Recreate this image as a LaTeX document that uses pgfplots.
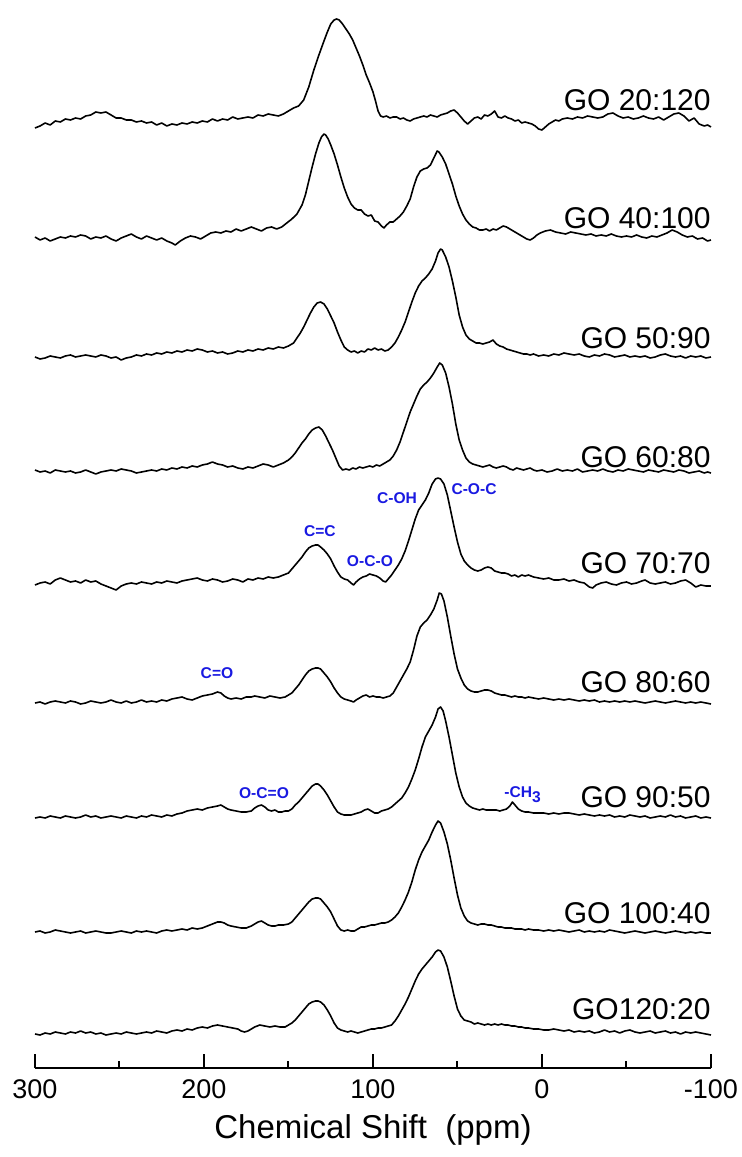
\documentclass[border=0pt]{standalone}
\usepackage{fontspec}
\setmainfont{Liberation Sans}
\usepackage{pgfplots}
\pgfplotsset{compat=1.18}
\definecolor{annblue}{RGB}{25,25,225}
\begin{document}
\begin{tikzpicture}
\begin{axis}[
  scale only axis, width=338pt, height=534pt,
  xmin=-100, xmax=300, ymin=0, ymax=1068, x dir=reverse,
  axis x line=bottom, axis y line=none,
  x axis line style={-, line width=1pt},
  xtick={300,200,100,0,-100}, xticklabels={300,200,100,0,-100},
  minor x tick num=1, tick align=inside, xtick pos=bottom,
  major tick length=7pt, minor tick length=3.5pt,
  every tick/.style={line width=1pt, black},
  xticklabel style={font=\fontsize{13.5}{16}\selectfont, yshift=-2.5pt},
  clip=false,
  trace/.style={black, solid, line width=0.8pt, mark=none, line join=round},
]
\coordinate (ll) at (axis cs:300,0);
% GO 20:120
\addplot[trace, y filter/.expression={y+943}] coordinates {(300,-3) (297,-1) (294,2) (291,0) (288,4) (285,3) (282,6) (279,5) (276,7) (273,6) (270,9) (267,10) (264,13) (261,12) (258,13) (255,10) (252,7) (249,7) (246,5) (243,5) (240,3) (237,4) (234,2) (231,3) (228,0) (225,2) (222,-1) (219,1) (216,0) (213,2) (210,1) (207,3) (204,2) (201,4) (198,3) (195,6) (192,4) (189,6) (186,5) (183,8) (180,6) (177,7) (174,8) (171,7) (168,10) (165,9) (162,11) (159,10) (156,9) (153,11) (150,14) (147,17) (144,19) (141,25) (138,38) (135,55) (132,70) (129,84) (127,93) (125,101) (123,105) (121.5,106) (120,105) (118,101) (116,96) (114,91) (112,85) (110,77) (108,69) (106,60) (104,50) (102,42) (100,33) (98.5,24) (97,14) (95.5,9) (94,8) (92,9) (90,7) (88,8) (86,8) (84,6) (82,7) (80,5) (78,4) (76,6) (74,7) (72,8) (70,9) (68,8) (66,10) (64,9) (62,8) (60,10) (58,11) (56,12) (54,14) (52,15) (50,12) (48,8) (46,4) (44,1) (42,4) (40,7) (38,8) (36,6) (34,10) (32,9) (30,11) (28,14) (26,8) (24,7) (22,9) (20,7) (18,6) (16,4) (14,5) (12,2) (10,3) (8,2) (6,1) (4,-1) (2,-4) (0,-5) (-2,-2) (-4,1) (-6,3) (-8,5) (-10,4) (-12,6) (-15,7) (-18,6) (-21,8) (-24,7) (-27,9) (-30,8) (-33,7) (-36,8) (-39,11) (-42,12) (-45,9) (-48,7) (-51,8) (-54,6) (-57,7) (-60,9) (-63,7) (-66,6) (-69,8) (-72,5) (-75,8) (-78,11) (-81,12) (-84,9) (-87,4) (-90,7) (-93,1) (-96,-1) (-98,0) (-100,-2)};
% GO 40:100
\addplot[trace, y filter/.expression={y+829}] coordinates {(300,2) (297,-1) (294,1) (291,-2) (288,0) (285,2) (282,1) (279,3) (276,2) (273,4) (270,3) (267,0) (264,2) (261,1) (258,3) (255,0) (252,-2) (249,1) (246,3) (243,5) (240,2) (237,0) (234,3) (231,1) (228,-1) (225,1) (222,-2) (219,-4) (217,-6) (214,-2) (211,1) (208,3) (205,2) (202,0) (199,3) (196,6) (193,7) (190,6) (187,8) (184,7) (181,10) (178,8) (175,10) (172,12) (169,10) (166,8) (163,11) (160,12) (157,10) (154,12) (151,16) (148,20) (145,25) (142,34) (140,44) (138,58) (136,72) (134,85) (132,96) (130.5,102) (129,105) (128,104) (126.5,100) (125,94) (123,85) (121,74) (119,62) (117,51) (115,42) (113,35) (111,31) (109,29) (107,29) (105,25) (103,23) (101,24) (99,18) (97,17) (95,13) (93.5,11) (92,14) (90,17) (88,17) (86,20) (84,23) (82,27) (80,33) (78,40) (76,52) (74,62) (72,68) (70,70) (68,71) (66,74) (64,81) (62,88) (61,87) (59,82) (57,75) (55,65) (53,55) (51,43) (49,33) (47,25) (45,19) (43,15) (41,12) (39,11) (37,9) (35,9) (33,10) (31,8) (29,10) (27,9) (25,11) (23,13) (21,12) (19,10) (17,8) (15,6) (13,4) (11,2) (9,0) (7,-1) (5,1) (3,4) (1,6) (-2,8) (-5,9) (-8,7) (-11,6) (-14,5) (-17,7) (-20,6) (-23,5) (-26,4) (-29,5) (-32,3) (-35,4) (-38,3) (-41,5) (-44,3) (-47,2) (-50,3) (-53,2) (-56,4) (-59,2) (-62,1) (-65,3) (-68,2) (-71,4) (-74,6) (-77,9) (-80,7) (-83,4) (-86,2) (-89,3) (-92,0) (-95,1) (-98,-2) (-100,-1)};
% GO 50:90
\addplot[trace, y filter/.expression={y+711}] coordinates {(300,0) (297,-2) (294,-1) (291,1) (288,0) (285,-1) (282,1) (279,2) (276,0) (273,1) (270,2) (267,1) (264,0) (261,2) (258,1) (255,-1) (252,0) (249,-3) (246,-1) (243,0) (240,2) (237,1) (234,3) (231,2) (228,4) (225,3) (222,5) (219,4) (216,6) (213,5) (210,7) (207,6) (204,8) (201,7) (198,5) (195,6) (192,4) (189,5) (186,3) (183,4) (180,6) (177,5) (174,7) (171,6) (168,8) (165,7) (162,9) (159,8) (156,10) (153,9) (150,11) (147,14) (145,19) (143,24) (141,30) (139,37) (137,44) (135,50) (133,54) (131,55) (129,53) (127,48) (125,41) (123,34) (121,25) (119,17) (117,10) (115,7) (113,5) (111,6) (109,4) (107,6) (105,5) (103,8) (101,7) (99,9) (97,7) (95,8) (93,6) (91,7) (89,10) (87,14) (85,20) (83,27) (81,35) (79,45) (77,55) (75,64) (73,71) (71,76) (69,79) (67,83) (65,88) (63,96) (61.5,104) (60,108) (59,107) (57,100) (55,90) (53,76) (51,60) (49,42) (47,30) (45,22) (43,18) (41,16) (39,14) (37,14) (35,13) (33,14) (31,15) (29,17) (27,13) (25,11) (23,10) (21,8) (19,7) (17,6) (15,5) (13,4) (11,3) (9,3) (7,2) (5,3) (2,1) (-1,2) (-4,1) (-7,3) (-10,2) (-13,4) (-16,3) (-19,2) (-22,3) (-25,1) (-28,0) (-31,2) (-34,1) (-37,3) (-40,2) (-43,0) (-46,1) (-49,2) (-52,0) (-55,1) (-58,0) (-61,1) (-64,-1) (-67,0) (-70,2) (-73,3) (-76,1) (-79,0) (-82,1) (-85,-1) (-88,1) (-91,0) (-94,1) (-97,-1) (-100,0)};
% GO 60:80
\addplot[trace, y filter/.expression={y+596}] coordinates {(300,2) (297,0) (294,1) (291,-1) (288,2) (285,1) (282,0) (279,1) (276,-1) (273,0) (270,2) (267,0) (264,-2) (261,0) (258,1) (255,2) (252,1) (249,3) (246,2) (243,1) (240,-1) (237,0) (234,1) (231,2) (228,1) (225,3) (222,2) (219,4) (216,3) (213,5) (210,4) (207,6) (204,5) (201,7) (198,8) (195,10) (192,8) (189,7) (186,5) (183,6) (180,4) (177,3) (174,5) (171,4) (168,6) (165,8) (162,7) (159,5) (156,7) (153,9) (150,12) (148,15) (146,19) (144,24) (142,29) (140,33) (138,38) (136,42) (134,44) (132,45) (130,42) (128,36) (126,29) (124,22) (122,14) (120,6) (118,2) (116,3) (114,2) (112,4) (110,3) (108,5) (106,4) (104,5) (102,6) (100,5) (98,7) (96,6) (94,8) (92,10) (90,12) (88,16) (86,22) (84,30) (82,40) (80,50) (78,60) (76,68) (74,76) (72,83) (70,87) (68,90) (66,94) (64,99) (62,105) (60.5,109) (59,107) (57,99) (55,85) (53,68) (51,48) (49,32) (47,22) (45,14) (43,10) (41,8) (39,7) (37,6) (35,5) (33,6) (31,7) (29,5) (27,4) (25,5) (23,6) (21,5) (19,3) (17,2) (15,4) (13,3) (11,2) (9,3) (7,4) (5,2) (3,1) (0,2) (-3,0) (-6,1) (-9,3) (-12,1) (-15,2) (-18,1) (-21,3) (-24,0) (-27,1) (-30,2) (-33,1) (-36,3) (-39,1) (-42,0) (-45,2) (-48,1) (-51,3) (-54,2) (-57,1) (-60,0) (-63,2) (-66,1) (-69,0) (-72,2) (-75,1) (-78,0) (-81,2) (-84,1) (-87,-1) (-90,0) (-93,1) (-96,-1) (-98,0) (-100,-1)};
% GO 70:70
\addplot[trace, y filter/.expression={y+485}] coordinates {(300,-2) (297,0) (294,1) (291,-1) (288,3) (285,5) (282,3) (279,1) (276,2) (273,0) (270,3) (267,1) (264,2) (261,-1) (258,-3) (255,-5) (252,-7) (249,-3) (246,-1) (243,0) (240,-1) (237,1) (234,0) (231,-1) (228,1) (225,0) (222,2) (219,1) (216,0) (213,2) (210,3) (207,4) (204,5) (201,3) (198,2) (195,4) (192,3) (189,1) (186,2) (183,4) (180,3) (177,1) (174,4) (171,3) (168,5) (165,4) (162,6) (159,5) (156,6) (153,8) (150,10) (148,14) (146,18) (144,22) (142,26) (140,31) (138,35) (136,37) (134,38) (132.5,38) (131,36) (129,33) (127,29) (125,24) (123,17) (121,11) (119,6) (117,4) (115,3) (113,0) (111.5,-2) (110,1) (108,4) (106,6) (104,7) (102,9) (100,8) (98,7) (96,5) (94,2) (92.5,1) (91,4) (89,8) (87,13) (85,18) (83,24) (81,32) (79,42) (77,53) (75,64) (73,73) (71,78) (69,83) (67,90) (65,99) (63,104) (61.5,105) (60,104) (58,99) (56,88) (54,72) (52,56) (50,41) (48,29) (46,22) (44,18) (42,15) (40,13) (38,12) (36,13) (34,15) (32,16) (30,15) (28,12) (26,11) (24,10) (22,10) (20,9) (18,7) (16,8) (14,6) (12,8) (10,7) (8,8) (5,6) (2,5) (-1,4) (-4,5) (-7,3) (-10,3) (-13,4) (-16,2) (-19,3) (-22,1) (-25,0) (-28,-4) (-30,-5) (-32,-2) (-35,0) (-38,1) (-41,-1) (-44,-2) (-47,0) (-50,1) (-53,-1) (-56,0) (-59,2) (-61,3) (-64,0) (-67,-1) (-70,0) (-73,1) (-76,-1) (-79,0) (-82,2) (-85,3) (-88,0) (-91,-4) (-94,-2) (-97,-3) (-100,-3)};
% GO 80:60
\addplot[trace, y filter/.expression={y+366}] coordinates {(300,-1) (297,0) (294,-2) (291,0) (288,1) (285,0) (282,-1) (279,1) (276,0) (273,-2) (270,-1) (267,1) (264,0) (261,-1) (258,0) (255,2) (252,0) (249,-1) (246,1) (243,-1) (240,0) (237,2) (234,0) (231,1) (228,0) (225,2) (222,1) (219,3) (216,4) (213,5) (210,3) (207,2) (204,4) (201,6) (198,7) (195,8) (192,10) (190,9) (188,6) (186,4) (184,3) (181,4) (178,3) (175,5) (172,5) (170,6) (167,5) (164,4) (161,6) (158,5) (155,4) (152,5) (150,7) (148,9) (146,13) (144,17) (142,22) (140,27) (138,31) (136,33) (134,34) (132.5,34) (131,33) (129,29) (127,25) (125,20) (123,14) (121,9) (119,5) (117,3) (115,2) (113,1) (111.5,0) (110,2) (108,4) (106,6) (104,7) (102,5) (100,6) (98,5) (96,5) (94,4) (92,5) (90,6) (88,9) (86,15) (84,21) (82,27) (80,33) (78,40) (76,52) (74,66) (72,75) (70,79) (68,82) (66,87) (64,93) (62,102) (60.8,109) (59.5,108) (58,101) (56,85) (54,66) (52,48) (50,33) (48,24) (46,17) (44,13) (42,11) (40,10) (38,10) (36,11) (34,12) (32,12) (30,11) (28,9) (26,8) (24,7) (22,7) (20,6) (18,5) (16,6) (14,5) (12,5) (10,4) (8,5) (5,4) (2,3) (-1,4) (-4,3) (-7,2) (-10,3) (-13,2) (-16,3) (-19,2) (-22,1) (-25,2) (-28,1) (-31,2) (-34,0) (-37,1) (-40,0) (-43,1) (-46,0) (-49,1) (-52,0) (-55,1) (-58,0) (-61,-1) (-64,0) (-67,1) (-70,0) (-73,-1) (-76,0) (-79,1) (-82,0) (-85,-1) (-88,0) (-91,-1) (-94,0) (-97,-1) (-100,-2)};
% GO 90:50
\addplot[trace, y filter/.expression={y+251}] coordinates {(300,-1) (297,0) (294,-1) (291,1) (288,0) (285,-1) (282,1) (279,0) (276,-1) (273,0) (270,2) (267,0) (264,1) (261,-1) (258,0) (255,1) (252,0) (249,-1) (246,1) (243,0) (240,-1) (237,1) (234,0) (231,2) (228,1) (225,0) (222,2) (219,1) (216,3) (213,4) (210,6) (207,7) (204,8) (201,7) (198,9) (195,10) (192,11) (190,12) (188,10) (186,8) (184,7) (181,6) (178,5) (175,5) (172,6) (170,9) (168,11) (166,12) (164,10) (162,7) (160,6) (158,7) (156,5) (154,5) (152,6) (150,6) (148,8) (146,12) (144,15) (142,19) (140,23) (138,27) (136,31) (134,33) (132.5,33) (131,31) (129,27) (127,22) (125,16) (123,10) (121,5) (119,3) (117,2) (115,2) (113,2) (111,3) (109,4) (107,5) (105,7) (103,8) (101,6) (99,4) (97,4) (95,6) (93,7) (91,8) (89,10) (87,13) (85,16) (83,19) (81,24) (79,30) (77,38) (75,47) (73,58) (71,70) (69,80) (67,86) (65,92) (63,100) (61.5,108) (60,110) (58.5,106) (57,96) (55,80) (53,62) (51,44) (49,30) (47,20) (45,14) (43,11) (41,9) (39,8) (37,7) (35,8) (33,7) (31,7) (29,7) (27,7) (25,6) (23,7) (21,8) (19,11) (17.5,15) (16,12) (14,8) (12,6) (10,5) (8,5) (5,4) (2,4) (-1,4) (-4,3) (-7,4) (-10,3) (-13,4) (-16,4) (-19,3) (-22,2) (-25,3) (-28,2) (-31,1) (-34,2) (-37,1) (-40,2) (-43,0) (-46,1) (-49,0) (-52,2) (-55,1) (-58,0) (-61,1) (-64,-1) (-67,0) (-70,1) (-73,0) (-76,2) (-79,0) (-82,1) (-85,-1) (-88,0) (-91,1) (-94,-1) (-97,0) (-100,-1)};
% GO 100:40
\addplot[trace, y filter/.expression={y+136}] coordinates {(300,0) (297,1) (294,-1) (291,0) (288,2) (285,1) (282,0) (279,-1) (276,0) (273,1) (270,-1) (267,0) (264,1) (261,0) (258,-1) (255,-1) (252,0) (249,1) (246,0) (243,-1) (240,1) (237,0) (234,1) (231,0) (228,-1) (225,1) (222,2) (219,1) (216,2) (213,3) (210,2) (207,4) (204,3) (201,4) (198,6) (195,8) (192,10) (190,10) (188,9) (186,7) (184,6) (181,5) (178,4) (175,4) (172,6) (170,8) (168,10) (166,11) (164,9) (162,7) (160,6) (158,6) (156,7) (153,7) (150,8) (148,10) (146,14) (144,18) (142,22) (140,26) (138,30) (136,33) (134,34) (132.5,34) (131,33) (129,29) (127,25) (125,20) (123,13) (121,6) (119,2) (117,1) (115,2) (113,1) (111,1) (109,3) (107,5) (105,5) (103,6) (101,7) (99,7) (97,8) (95,9) (93,9) (91,10) (89,12) (87,15) (85,19) (83,25) (81,32) (79,40) (77,50) (75,62) (73,72) (71,80) (69,86) (67,92) (65,100) (63,107) (61.5,111) (60,109) (58,100) (56,88) (54,72) (52,54) (50,37) (48,24) (46,16) (44,11) (42,9) (40,8) (38,7) (36,8) (34,8) (32,7) (30,7) (28,6) (26,5) (24,5) (22,4) (20,4) (18,4) (16,3) (14,3) (12,3) (10,2) (8,3) (5,2) (2,2) (-1,1) (-4,2) (-7,1) (-10,2) (-13,1) (-16,0) (-19,1) (-22,2) (-25,0) (-28,1) (-31,0) (-34,1) (-37,0) (-40,2) (-43,1) (-46,0) (-49,-1) (-52,0) (-55,1) (-58,0) (-61,-1) (-64,0) (-67,1) (-70,0) (-73,-1) (-76,0) (-79,1) (-82,0) (-85,-1) (-88,0) (-91,-1) (-94,0) (-97,-1) (-100,-1)};
% GO 120:20
\addplot[trace, y filter/.expression={y+35}] coordinates {(300,-1) (297,-2) (294,0) (291,-1) (288,1) (285,0) (282,-1) (279,1) (276,0) (273,2) (270,0) (267,1) (264,-1) (261,0) (258,-2) (255,-1) (252,0) (249,-1) (246,1) (243,0) (240,-1) (237,0) (234,1) (231,0) (228,2) (225,1) (222,0) (219,2) (216,3) (213,2) (210,4) (207,3) (204,5) (201,6) (198,5) (195,7) (192,8) (189,7) (186,6) (183,5) (180,4) (178,2) (176,1) (174,2) (172,4) (170,6) (167,8) (164,7) (161,6) (158,7) (155,6) (152,6) (150,8) (148,10) (146,13) (144,17) (142,21) (140,25) (138,29) (136,31) (134,32) (132.5,32) (131,31) (129,28) (127,23) (125,17) (123,10) (121,5) (119,3) (117,2) (115,1) (113,2) (111,1) (109,0) (107,1) (105,2) (103,3) (101,4) (99,4) (97,5) (95,5) (93,6) (91,7) (89,8) (87,12) (85,17) (83,23) (81,29) (79,36) (77,44) (75,52) (73,59) (71,64) (69,68) (67,72) (65,76) (63,81) (61.5,83) (60,82) (58,76) (56,66) (54,52) (52,37) (50,24) (48,17) (46,13) (44,12) (42,11) (40,9) (38,10) (36,9) (34,8) (32,9) (30,8) (28,9) (26,8) (24,9) (22,8) (20,8) (18,7) (16,7) (14,6) (12,6) (10,5) (8,5) (5,4) (2,4) (-1,3) (-4,3) (-7,4) (-10,3) (-13,2) (-16,3) (-19,1) (-22,2) (-25,1) (-28,2) (-31,0) (-34,1) (-37,3) (-40,1) (-43,2) (-46,0) (-49,2) (-52,3) (-55,1) (-58,0) (-61,1) (-64,2) (-67,0) (-70,1) (-73,2) (-76,0) (-79,1) (-82,-1) (-85,1) (-88,0) (-91,1) (-94,0) (-97,-1) (-100,-2)};
% sample labels
\begin{scope}[every node/.style={anchor=east, inner sep=0pt, font=\fontsize{15}{18}\selectfont}]
\node at (axis cs:-100,968) {GO 20:120};
\node at (axis cs:-100,850) {GO 40:100};
\node at (axis cs:-100,730) {GO 50:90};
\node at (axis cs:-100,611) {GO 60:80};
\node at (axis cs:-100,505) {GO 70:70};
\node at (axis cs:-100,386) {GO 80:60};
\node at (axis cs:-100,271) {GO 90:50};
\node at (axis cs:-100,155) {GO 100:40};
\node at (axis cs:-100,59) {GO120:20};
\end{scope}
% peak annotations
\begin{scope}[every node/.style={inner sep=0pt, text=annblue, font=\bfseries\fontsize{7.8}{9}\selectfont}]
\node at (axis cs:85.8,570) {C-OH};
\node at (axis cs:40.2,579) {C-O-C};
\node at (axis cs:131.4,537) {C=C};
\node at (axis cs:101.8,507) {O-C-O};
\node at (axis cs:192.3,395) {C=O};
\node at (axis cs:164.5,275) {O-C=O};
\node[anchor=base west] at (axis cs:22.5,270.5) {-CH\textsubscript{\fontsize{7.8}{9}\selectfont 3}};
\end{scope}
\node[font=\fontsize{16.5}{20}\selectfont] at (axis cs:100,0) [yshift=-31pt] {Chemical Shift\ \ (ppm)};
\end{axis}
\pgfresetboundingbox
\path ([shift={(-17.5pt,-44.5pt)}]ll) rectangle ++(370.5pt,578.5pt);
\end{tikzpicture}
\end{document}
